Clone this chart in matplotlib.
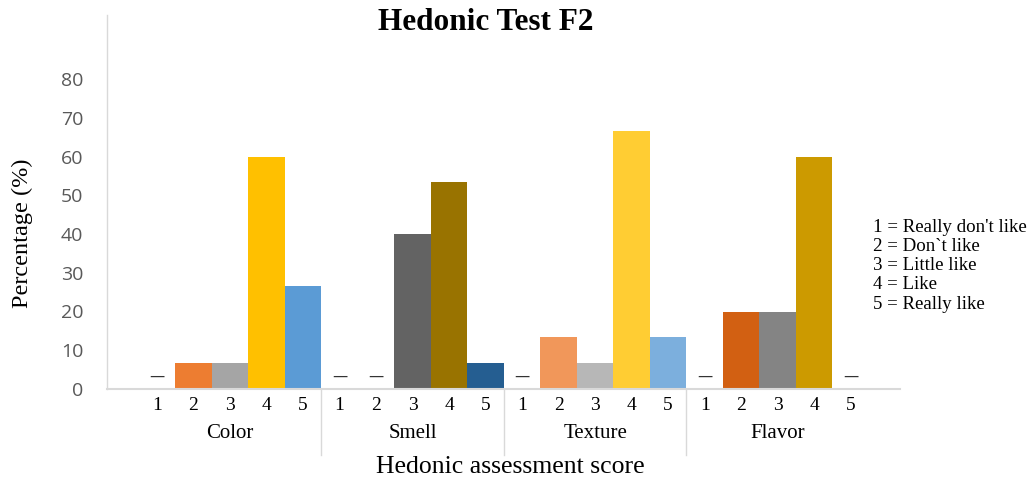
import matplotlib.pyplot as plt
import numpy as np

# data
groups = ["Color", "Smell", "Texture", "Flavor"]
scores = ["1", "2", "3", "4", "5"]
color_vals = [0, 6.67, 6.67, 60, 26.67]
smell_vals = [0, 0, 40, 53.33, 6.67]
texture_vals = [0, 13.33, 6.67, 66.67, 13.33]
flavor_vals = [0, 20, 20, 60, 0]

color_cols = ["#ED7D31", "#ED7D31", "#A5A5A5", "#FFC000", "#5B9BD5"]
smell_cols = ["#636363", "#636363", "#636363", "#997300", "#255E91"]
texture_cols = ["#F1975A", "#F1975A", "#B7B7B7", "#FFCD33", "#7CAFDD"]
flavor_cols = ["#D26012", "#D26012", "#848484", "#CC9A00", "#CC9A00"]

legend_lines = [
    "1 = Really don't like",
    "2 = Don\u02cbt like",
    "3 = Little like",
    "4 = Like",
    "5 = Really like",
]

serif = "Liberation Serif"
axis_grey = "#D9D9D9"

fig = plt.figure(figsize=(10.31, 4.83), dpi=100)
ax = fig.add_axes([107 / 1031, 1 - 389 / 483, (900 - 107) / 1031, (389 - 15) / 483])

all_vals = [color_vals, smell_vals, texture_vals, flavor_vals]
all_cols = [color_cols, smell_cols, texture_cols, flavor_cols]

x_pos = []
x_lab = []
for g, (vals, cols) in enumerate(zip(all_vals, all_cols)):
    x = np.arange(len(vals)) + g * len(scores)
    ax.bar(x, vals, width=1.0, color=cols, edgecolor="none")
    for xi, v in zip(x, vals):
        if v == 0:
            ax.text(xi, 1.3, "\u2014", ha="center", va="bottom", fontsize=11,
                    color="#333333")
    x_pos.extend(x)
    x_lab.extend(scores)

ax.set_ylim(0, (389 - 15) / 3.875)
ax.set_xlim(-1.37, 20.35)
ax.set_yticks(np.arange(0, 81, 10))
ax.tick_params(axis="y", length=0, pad=17, labelsize=14, labelcolor="#595959")
for lab in ax.get_yticklabels():
    lab.set_family("Open Sans")

ax.set_xticks(x_pos)
ax.set_xticklabels(x_lab, fontsize=14, family=serif)
ax.tick_params(axis="x", length=0, pad=6)

for side in ["top", "right"]:
    ax.spines[side].set_visible(False)
ax.spines["left"].set_color(axis_grey)
ax.spines["bottom"].set_color(axis_grey)
ax.spines["left"].set_linewidth(1.0)
ax.spines["bottom"].set_linewidth(1.5)

# group labels and separators beneath the axis
trans = ax.get_xaxis_transform()
for g, name in enumerate(groups):
    center = g * len(scores) + 2
    ax.text(center, -44 / 374, name, transform=trans, ha="center", va="center",
            fontsize=15, family=serif)
    if g > 0:
        sep = g * len(scores) - 0.5
        ax.plot([sep, sep], [0, -66 / 374], transform=trans, color=axis_grey,
                lw=1.0, clip_on=False)

fig.text(510 / 1031, 1 - 467 / 483, "Hedonic assessment score", ha="center",
         va="center", fontsize=18.5, family=serif)
fig.text(22 / 1031, 1 - 233 / 483, "Percentage (%)", ha="center", va="center",
         rotation=90, fontsize=17.5, family=serif)
fig.text(486 / 1031, 1 - 23 / 483, "Hedonic Test F2", ha="center", va="center",
         fontsize=22.5, fontweight="bold", family=serif)

for i, line in enumerate(legend_lines):
    fig.text(873 / 1031, 1 - (227 + i * 19.3) / 483, line, ha="left",
             va="center", fontsize=13.6, family=serif)

fig.savefig("out.png", dpi=100)
